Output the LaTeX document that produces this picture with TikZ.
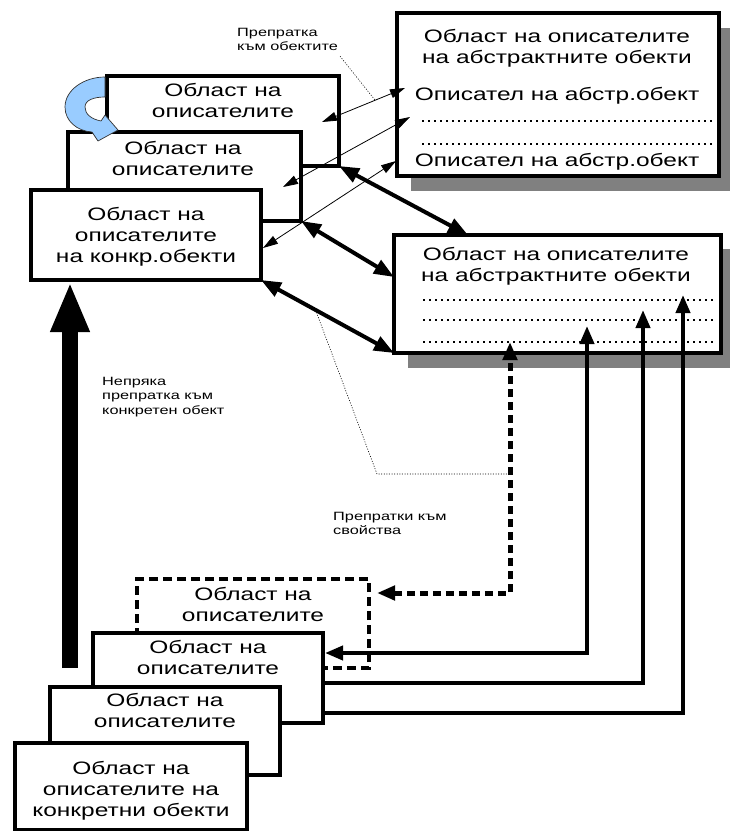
\documentclass[tikz,border=0pt]{standalone}
\usepackage{fontspec}
\newfontfamily\boxfam[FakeStretch=1.36]{Liberation Sans}
\usetikzlibrary{arrows.meta}
\definecolor{shadowgray}{HTML}{808080}
\definecolor{lightblue}{HTML}{99CCFF}
\tikzset{
  box/.style={draw, line width=4pt, fill=white, inner sep=0pt, outer sep=0pt},
  dashbox/.style={box, dash pattern=on 9pt off 5pt},
  lbl/.style={font=\boxfam\fontsize{18}{21}\selectfont, align=center, inner sep=0pt, anchor=north},
  note/.style={font=\boxfam\fontsize{12}{14.5}\selectfont, align=left, inner sep=0pt, anchor=north west},
  thinarr/.style={line width=0.8pt, {Triangle[length=15pt,width=9pt]}-{Triangle[length=15pt,width=9pt]}},
  thickarr/.style={line width=4pt, {Triangle[length=20pt,width=15pt]}-{Triangle[length=20pt,width=15pt]}},
  linkarr/.style={line width=4pt, -{Triangle[length=18pt,width=14pt]}},
  linkboth/.style={line width=4pt, {Triangle[length=18pt,width=14pt]}-{Triangle[length=18pt,width=14pt]}},
  dashlink/.style={line width=5pt, dash pattern=on 8pt off 5pt, {Triangle[length=18pt,width=14pt]}-{Triangle[length=18pt,width=14pt]}},
  dotrow/.style={line width=1.6pt, dash pattern=on 1.6pt off 4.4pt},
  annot/.style={line width=0.6pt, dash pattern=on 1pt off 1.6pt},
  shadowfill/.style={fill=shadowgray},
  bigarrow/.style={line width=16pt, -{Triangle[length=50pt,width=36pt]}},
  cyclearrow/.style={fill=lightblue, draw=black!80, line width=0.7pt, line join=round},
}
\begin{document}
\begin{tikzpicture}[x=1pt,y=-1pt]
\useasboundingbox (0,0) rectangle (730,831);
% shadows
\fill[shadowfill] (411,28) rectangle (730,191);
\fill[shadowfill] (408,249) rectangle (730,368);
% abstract-object boxes
\node[box, minimum width=322pt, minimum height=163pt] (a1) at (558,94.5) {};
\node[box, minimum width=327pt, minimum height=118pt] (a2) at (557.5,294) {};
% top stack
\node[box, minimum width=232pt, minimum height=90pt] (t1) at (223,121) {};
\node[box, minimum width=233pt, minimum height=89pt] (t2) at (184.5,176.5) {};
\node[box, minimum width=230pt, minimum height=90pt] (t3) at (146,235) {};
\filldraw[cyclearrow] (105,77) .. controls (84,77) and (65,90) .. (65,107)
  .. controls (65,121) and (77,131) .. (92,132) -- (98,141) -- (118,130) -- (105,115) -- (101,121)
  .. controls (91,119) and (85,114) .. (85,107) .. controls (85,100) and (94,97) .. (105,97) -- cycle;
% bottom stack
\node[dashbox, minimum width=232pt, minimum height=89pt] (b1) at (253,623.5) {};
\node[box, minimum width=230pt, minimum height=90pt] (b2) at (208,678) {};
\node[box, minimum width=230pt, minimum height=88pt] (b3) at (165,731) {};
\node[box, minimum width=232pt, minimum height=87pt] (b4) at (131,786.5) {};
% labels
\node[lbl] (t1l) at (223,83) {Област на\\описателите};
\node[lbl] (t2l) at (183,141) {Област на\\описателите};
\node[lbl] (t3l) at (146,207) {Област на\\описателите\\на конкр.обекти};
\node[lbl] (a1l) at (557,29) {Област на описателите\\на абстрактните обекти};
\node[lbl] (a1d1) at (557,87) {Описател на абстр.обект};
\node[lbl] (a1d2) at (557,153) {Описател на абстр.обект};
\node[lbl] (a2l) at (556,247) {Област на описателите\\на абстрактните обекти};
\node[lbl] (b1l) at (253,587) {Област на\\описателите};
\node[lbl] (b2l) at (208,640) {Област на\\описателите};
\node[lbl] (b3l) at (165,693) {Област на\\описателите};
\node[lbl] (b4l) at (131,761) {Област на\\описателите на\\конкретни обекти};
% dotted rows
\draw[dotrow] (422,121) -- (712,121);
\draw[dotrow] (422,144) -- (712,144);
\draw[dotrow] (423,300) -- (713,300);
\draw[dotrow] (423,320) -- (713,320);
\draw[dotrow] (423,342) -- (713,342);
% notes
\node[note] (n1) at (237,28) {Препратка\\към обектите};
\node[note] (n2) at (102,377) {Непряка\\препратка към\\конкретен обект};
\node[note] (n3) at (333,512) {Препратки към\\свойства};
% thin reference arrows
\draw[thinarr] ([shift={(-17,1)}]t1.east) -- coordinate[pos=0.64] (m1) ([shift={(8,-6.5)}]a1.west);
\draw[thinarr] ([shift={(-18,10.5)}]t2.east) -- ([shift={(13,22.5)}]a1.west);
\draw[thinarr] ([shift={(2,13)}]t3.east) -- ([shift={(-1,66.5)}]a1.west);
% thick double arrows
\draw[thickarr] (t1.south east) -- ([xshift=74pt]a2.north west);
\draw[thickarr] (t2.south east) -- ([yshift=-42pt]a2.north west);
\draw[thickarr] (t3.south east) -- coordinate[pos=0.41] (m2) (a2.south west);
% links from the bottom stack
\draw[dashlink] ([shift={(8,-30.5)}]b1.east) -| coordinate[pos=0.75] (d2) ([shift={(-47.5,-11)}]a2.south);
\draw[linkboth] ([shift={(2,-25)}]b2.east) -| ([shift={(29.5,-27)}]a2.south);
\draw[linkarr] ([shift={(0,5)}]b2.east) -| ([shift={(85.5,-43)}]a2.south);
\draw[linkarr] ([shift={(0,35)}]b2.east) -| ([shift={(125.5,-58)}]a2.south);
% big arrow
\coordinate (bigfoot) at (70,668);
\draw[bigarrow] (bigfoot) -- ([shift={(-76,2)}]t3.south);
% annotation leaders
\draw[annot] ([shift={(2,5)}]n1.south east) -- (m1);
\coordinate (k2) at (377,474);
\draw[annot] (m2) -- (k2) -- (k2 -| d2);
\end{tikzpicture}
\end{document}
